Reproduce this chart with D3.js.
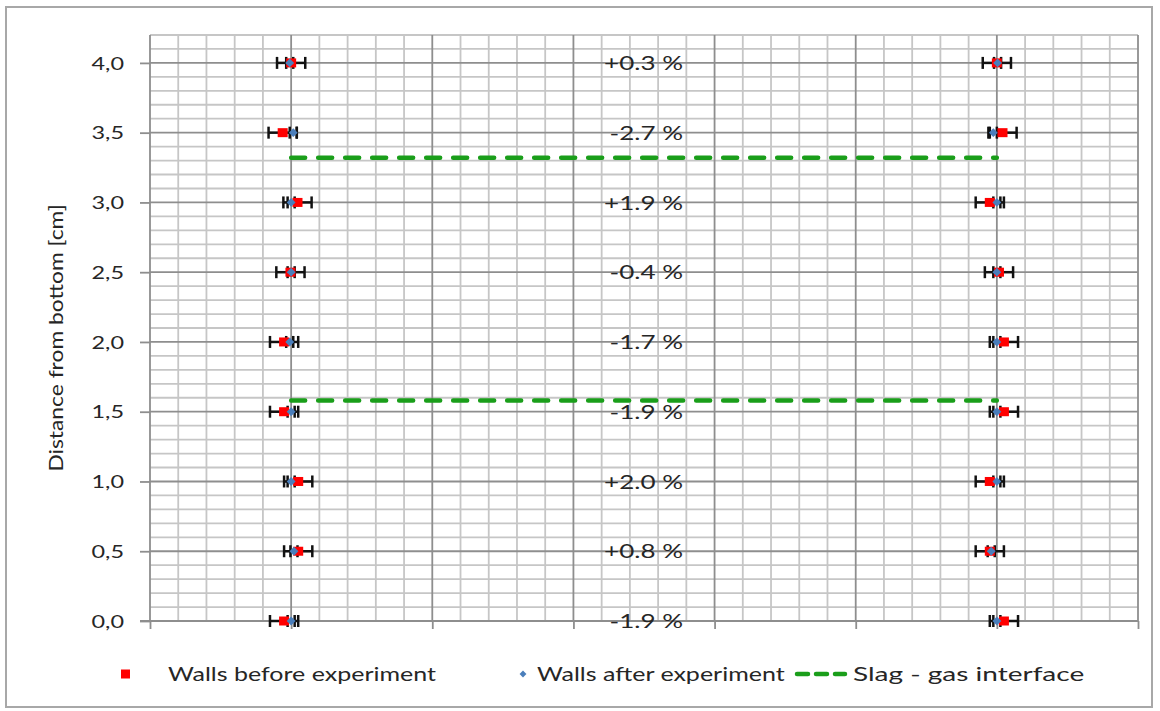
<!DOCTYPE html>
<html>
<head>
<meta charset="utf-8">
<script src="https://cdn.jsdelivr.net/npm/d3@7"></script>
<style>
  html, body { margin: 0; padding: 0; background: #ffffff; }
  svg { display: block; }
  text { font-family: Lato, "Open Sans", sans-serif; fill: #262626; }
</style>
</head>
<body>
<svg id="chart" width="1160" height="711"></svg>
<script>
// Measurement heights along the sample (cm)
const heights = [0.0, 0.5, 1.0, 1.5, 2.0, 2.5, 3.0, 3.5, 4.0];
// Wall positions before the experiment (left / right wall)
const beforeLeft  = [0.95, 1.05, 1.05, 0.95, 0.95, 0.995, 1.045, 0.94, 1.00];
const beforeRight = [6.05, 5.95, 5.95, 6.05, 6.05, 6.015, 5.95, 6.04, 6.00];
// Wall positions after the experiment
const afterLeft   = [1.00, 1.02, 1.00, 1.00, 0.99, 1.00, 1.00, 1.015, 0.99];
const afterRight  = [6.00, 5.96, 6.00, 6.00, 6.00, 6.00, 6.00, 5.975, 6.005];
// Error half-widths
const beforeError = 0.10;
const afterError = 0.025;
// Relative change in width at each height
const changeLabels = ["-1.9 %", "+0.8 %", "+2.0 %", "-1.9 %", "-1.7 %", "-0.4 %", "+1.9 %", "-2.7 %", "+0.3 %"];
// Slag - gas interface levels (cm), spanning the inner width
const interfaceLevels = [1.58, 3.32];
const interfaceSpan = [1.0, 6.0];
// Axis ticks
const yTicks = [0.0, 0.5, 1.0, 1.5, 2.0, 2.5, 3.0, 3.5, 4.0];
const yTickLabels = ["0,0", "0,5", "1,0", "1,5", "2,0", "2,5", "3,0", "3,5", "4,0"];
const legendLabels = ["Walls before experiment", "Walls after experiment", "Slag - gas interface"];

const svg = d3.select("#chart");
const W = 1160, H = 711;
const margin = { left: 150, right: 22, top: 35, bottom: 90 };

const x = d3.scaleLinear().domain([0, 7]).range([margin.left, W - margin.right]);
const y = d3.scaleLinear().domain([0, 4.2]).range([H - margin.bottom, margin.top]);

const RED = "#ff0000", BLUE = "#4a7ebb", GREEN = "#1a9e1a";
const MINOR = "#c6c6c6", MAJOR = "#8e8e8e";

// horizontal stretch applied to text to mimic the wide rendering
function stretch(sel, k) {
  sel.each(function () {
    const w = this.getComputedTextLength();
    d3.select(this).attr("textLength", w * k).attr("lengthAdjust", "spacingAndGlyphs");
  });
}

// outer frame
svg.append("rect")
  .attr("x", 6).attr("y", 7).attr("width", 1146).attr("height", 700)
  .attr("fill", "#fff").attr("stroke", "#a8a8a8").attr("stroke-width", 2);

const grid = svg.append("g");
// minor grid
const yMinor = d3.range(0, 4.2001, 0.1).map(v => +v.toFixed(2));
const xMinor = d3.range(0, 7.0001, 0.2).map(v => +v.toFixed(2));
grid.selectAll(".hmin").data(yMinor.filter(v => Math.abs(v * 2 - Math.round(v * 2)) > 1e-6))
  .join("line")
  .attr("x1", x(0)).attr("x2", x(7))
  .attr("y1", d => y(d)).attr("y2", d => y(d))
  .attr("stroke", MINOR).attr("stroke-width", 1.8);
grid.selectAll(".vmin").data(xMinor.filter(v => Math.abs(v - Math.round(v)) > 1e-6))
  .join("line")
  .attr("x1", d => x(d)).attr("x2", d => x(d))
  .attr("y1", y(0)).attr("y2", y(4.2))
  .attr("stroke", MINOR).attr("stroke-width", 1.8);
// major grid
grid.selectAll(".hmaj").data(yTicks.filter(v => v > 0))
  .join("line")
  .attr("x1", x(0)).attr("x2", x(7))
  .attr("y1", d => y(d)).attr("y2", d => y(d))
  .attr("stroke", MAJOR).attr("stroke-width", 1.8);
grid.selectAll(".vmaj").data(d3.range(1, 8))
  .join("line")
  .attr("x1", d => x(d)).attr("x2", d => x(d))
  .attr("y1", y(0)).attr("y2", y(4.2))
  .attr("stroke", MAJOR).attr("stroke-width", 1.8);

// y axis
const yAxis = d3.axisLeft(y).tickValues(yTicks).tickSize(10).tickPadding(16)
  .tickFormat((d, i) => yTickLabels[i]);
const gy = svg.append("g").attr("transform", `translate(${x(0)},0)`).call(yAxis);
gy.select(".domain").attr("stroke", MAJOR).attr("stroke-width", 1.8).attr("d", `M-10,${y(0)}H0V${y(4.2)}`);
gy.selectAll(".tick line").attr("stroke", MAJOR).attr("stroke-width", 1.8);
gy.selectAll(".tick text").attr("font-size", 18).attr("fill", "#262626")
  .attr("font-family", "Lato, sans-serif").attr("dy", "0.34em");
stretch(gy.selectAll(".tick text"), 1.3);

// x axis (no labels)
const xAxis = d3.axisBottom(x).tickValues(d3.range(0, 8)).tickSize(8).tickFormat("");
const gx = svg.append("g").attr("transform", `translate(0,${y(0)})`).call(xAxis);
gx.select(".domain").attr("stroke", MAJOR).attr("stroke-width", 1.8).attr("d", `M${x(0)},0H${x(7)}`);
gx.selectAll(".tick line").attr("stroke", MAJOR).attr("stroke-width", 1.8);

// y axis title
const title = svg.append("text")
  .attr("transform", `translate(63,${(y(0) + y(4.2)) / 2 + 10}) rotate(-90)`)
  .attr("text-anchor", "middle")
  .attr("font-size", 20)
  .text("Distance from bottom [cm]");
stretch(title, 1.14);

// slag - gas interface lines
svg.selectAll(".iface").data(interfaceLevels).join("line")
  .attr("x1", x(interfaceSpan[0])).attr("x2", x(interfaceSpan[1]))
  .attr("y1", d => y(d)).attr("y2", d => y(d))
  .attr("stroke", GREEN).attr("stroke-width", 4.5)
  .attr("stroke-dasharray", "14,13").attr("stroke-linecap", "round");

// change labels
const lbl = svg.selectAll(".chg").data(heights).join("text")
  .attr("x", 683).attr("y", d => y(d)).attr("dy", "0.36em")
  .attr("text-anchor", "end").attr("font-size", 20).attr("fill", "#2a2a2a")
  .text((d, i) => changeLabels[i]);
stretch(lbl, 1.3);

// points: before & after, both walls
const before = heights.flatMap((h, i) => [{ h, v: beforeLeft[i] }, { h, v: beforeRight[i] }]);
const after = heights.flatMap((h, i) => [{ h, v: afterLeft[i] }, { h, v: afterRight[i] }]);

function errorBars(data, err) {
  const g = svg.append("g").attr("stroke", "#111").attr("stroke-width", 2.5);
  data.forEach(d => {
    const cy = y(d.h);
    g.append("line").attr("x1", x(d.v - err)).attr("x2", x(d.v + err)).attr("y1", cy).attr("y2", cy);
    g.append("line").attr("x1", x(d.v - err)).attr("x2", x(d.v - err)).attr("y1", cy - 6).attr("y2", cy + 6);
    g.append("line").attr("x1", x(d.v + err)).attr("x2", x(d.v + err)).attr("y1", cy - 6).attr("y2", cy + 6);
  });
}
errorBars(before, beforeError);
errorBars(after, afterError);

svg.append("g").selectAll("rect").data(before).join("rect")
  .attr("x", d => x(d.v) - 5).attr("y", d => y(d.h) - 4.5)
  .attr("width", 10).attr("height", 9).attr("fill", RED);

const diamond = d3.symbol().type(d3.symbolDiamond2).size(50);
svg.append("g").selectAll("path").data(after).join("path")
  .attr("transform", d => `translate(${x(d.v)},${y(d.h)})`)
  .attr("d", diamond).attr("fill", BLUE);

// legend
const ly = 674;
const leg = svg.append("g");
leg.append("rect").attr("x", 121).attr("y", ly - 4.5).attr("width", 9).attr("height", 9).attr("fill", RED);
leg.append("path").attr("transform", `translate(523,${ly})`)
  .attr("d", d3.symbol().type(d3.symbolDiamond2).size(30)).attr("fill", BLUE);
leg.append("line").attr("x1", 797).attr("x2", 845).attr("y1", ly).attr("y2", ly)
  .attr("stroke", GREEN).attr("stroke-width", 4.5)
  .attr("stroke-dasharray", "11,8").attr("stroke-linecap", "round");
const legText = leg.selectAll(".lt").data(legendLabels).join("text")
  .attr("x", (d, i) => [168, 537, 853][i]).attr("y", ly).attr("dy", "0.36em")
  .attr("font-size", 20).text(d => d);
legText.each(function (d, i) {
  const w = this.getComputedTextLength();
  d3.select(this).attr("textLength", w * [1.25, 1.25, 1.4][i]).attr("lengthAdjust", "spacingAndGlyphs");
});
</script>
</body>
</html>
